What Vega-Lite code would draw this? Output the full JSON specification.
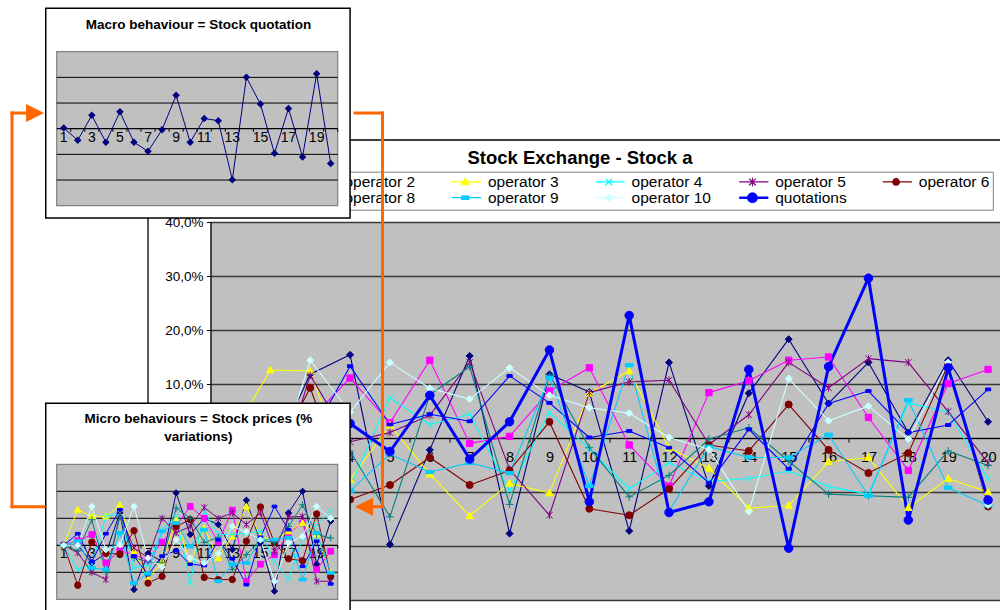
{
  "$schema": "https://vega.github.io/schema/vega-lite/v6.json",
  "autosize": "none",
  "padding": {"left": 210.5, "top": 221, "right": 789.5, "bottom": 389},
  "background": "white",
  "bounds": "flush",
  "spacing": 0,
  "config": {
    "font": "Liberation Sans",
    "view": {"stroke": null},
    "locale": {"number": {"decimal": ",", "thousands": ".", "grouping": [3], "currency": ["", " €"], "minus": "-", "percent": "%"}}
  },
  "resolve": {"scale": {"color": "independent", "stroke": "independent", "shape": "independent", "size": "independent", "strokeWidth": "independent"}},
  "datasets": {
    "main": [
      {"series":"operator 1","period":1,"change":0},{"series":"operator 1","period":2,"change":-0.04},{"series":"operator 1","period":3,"change":0.118},{"series":"operator 1","period":4,"change":0.154},{"series":"operator 1","period":5,"change":-0.197},{"series":"operator 1","period":6,"change":-0.022},{"series":"operator 1","period":7,"change":0.152},{"series":"operator 1","period":8,"change":-0.177},{"series":"operator 1","period":9,"change":0.118},{"series":"operator 1","period":10,"change":0.085},{"series":"operator 1","period":11,"change":-0.172},{"series":"operator 1","period":12,"change":0.14},{"series":"operator 1","period":13,"change":-0.089},{"series":"operator 1","period":14,"change":0.083},{"series":"operator 1","period":15,"change":0.183},{"series":"operator 1","period":16,"change":0.064},{"series":"operator 1","period":17,"change":0.14},{"series":"operator 1","period":18,"change":0.01},{"series":"operator 1","period":19,"change":0.144},{"series":"operator 1","period":20,"change":0.03},
      {"series":"operator 2","period":1,"change":0},{"series":"operator 2","period":2,"change":0.02},{"series":"operator 2","period":3,"change":0.034},{"series":"operator 2","period":4,"change":0.111},{"series":"operator 2","period":5,"change":0.028},{"series":"operator 2","period":6,"change":0.144},{"series":"operator 2","period":7,"change":-0.01},{"series":"operator 2","period":8,"change":0.003},{"series":"operator 2","period":9,"change":0.087},{"series":"operator 2","period":10,"change":0.13},{"series":"operator 2","period":11,"change":-0.013},{"series":"operator 2","period":12,"change":-0.089},{"series":"operator 2","period":13,"change":0.084},{"series":"operator 2","period":14,"change":0.106},{"series":"operator 2","period":15,"change":0.144},{"series":"operator 2","period":16,"change":0.15},{"series":"operator 2","period":17,"change":0.038},{"series":"operator 2","period":18,"change":-0.06},{"series":"operator 2","period":19,"change":0.101},{"series":"operator 2","period":20,"change":0.127},
      {"series":"operator 3","period":1,"change":0},{"series":"operator 3","period":2,"change":0.126},{"series":"operator 3","period":3,"change":0.124},{"series":"operator 3","period":4,"change":-0.078},{"series":"operator 3","period":5,"change":0.024},{"series":"operator 3","period":6,"change":-0.067},{"series":"operator 3","period":7,"change":-0.144},{"series":"operator 3","period":8,"change":-0.084},{"series":"operator 3","period":9,"change":-0.102},{"series":"operator 3","period":10,"change":0.083},{"series":"operator 3","period":11,"change":0.124},{"series":"operator 3","period":12,"change":-0.018},{"series":"operator 3","period":13,"change":-0.056},{"series":"operator 3","period":14,"change":-0.13},{"series":"operator 3","period":15,"change":-0.125},{"series":"operator 3","period":16,"change":-0.044},{"series":"operator 3","period":17,"change":-0.036},{"series":"operator 3","period":18,"change":-0.129},{"series":"operator 3","period":19,"change":-0.075},{"series":"operator 3","period":20,"change":-0.1},
      {"series":"operator 4","period":1,"change":0},{"series":"operator 4","period":2,"change":-0.06},{"series":"operator 4","period":3,"change":-0.03},{"series":"operator 4","period":4,"change":-0.09},{"series":"operator 4","period":5,"change":0.075},{"series":"operator 4","period":6,"change":0.025},{"series":"operator 4","period":7,"change":0.044},{"series":"operator 4","period":8,"change":-0.098},{"series":"operator 4","period":9,"change":0.047},{"series":"operator 4","period":10,"change":-0.02},{"series":"operator 4","period":11,"change":-0.094},{"series":"operator 4","period":12,"change":-0.046},{"series":"operator 4","period":13,"change":-0.08},{"series":"operator 4","period":14,"change":-0.075},{"series":"operator 4","period":15,"change":-0.061},{"series":"operator 4","period":16,"change":-0.09},{"series":"operator 4","period":17,"change":-0.104},{"series":"operator 4","period":18,"change":0.065},{"series":"operator 4","period":19,"change":0.048},{"series":"operator 4","period":20,"change":-0.075},
      {"series":"operator 5","period":1,"change":0},{"series":"operator 5","period":2,"change":-0.12},{"series":"operator 5","period":3,"change":0.116},{"series":"operator 5","period":4,"change":-0.007},{"series":"operator 5","period":5,"change":0.01},{"series":"operator 5","period":6,"change":0.042},{"series":"operator 5","period":7,"change":0.14},{"series":"operator 5","period":8,"change":-0.058},{"series":"operator 5","period":9,"change":-0.143},{"series":"operator 5","period":10,"change":0.084},{"series":"operator 5","period":11,"change":0.104},{"series":"operator 5","period":12,"change":0.107},{"series":"operator 5","period":13,"change":-0.012},{"series":"operator 5","period":14,"change":0.043},{"series":"operator 5","period":15,"change":0.14},{"series":"operator 5","period":16,"change":0.093},{"series":"operator 5","period":17,"change":0.147},{"series":"operator 5","period":18,"change":0.14},{"series":"operator 5","period":19,"change":0.049},{"series":"operator 5","period":20,"change":-0.046},
      {"series":"operator 6","period":1,"change":0},{"series":"operator 6","period":2,"change":-0.05},{"series":"operator 6","period":3,"change":0.093},{"series":"operator 6","period":4,"change":-0.114},{"series":"operator 6","period":5,"change":-0.087},{"series":"operator 6","period":6,"change":-0.036},{"series":"operator 6","period":7,"change":-0.087},{"series":"operator 6","period":8,"change":-0.06},{"series":"operator 6","period":9,"change":0.03},{"series":"operator 6","period":10,"change":-0.131},{"series":"operator 6","period":11,"change":-0.143},{"series":"operator 6","period":12,"change":-0.094},{"series":"operator 6","period":13,"change":-0.013},{"series":"operator 6","period":14,"change":-0.024},{"series":"operator 6","period":15,"change":0.062},{"series":"operator 6","period":16,"change":-0.022},{"series":"operator 6","period":17,"change":-0.065},{"series":"operator 6","period":18,"change":-0.028},{"series":"operator 6","period":19,"change":0.136},{"series":"operator 6","period":20,"change":-0.127},
      {"series":"operator 7","period":1,"change":0},{"series":"operator 7","period":2,"change":-0.03},{"series":"operator 7","period":3,"change":-0.06},{"series":"operator 7","period":4,"change":-0.024},{"series":"operator 7","period":5,"change":-0.146},{"series":"operator 7","period":6,"change":0.08},{"series":"operator 7","period":7,"change":0.132},{"series":"operator 7","period":8,"change":-0.123},{"series":"operator 7","period":9,"change":0.118},{"series":"operator 7","period":10,"change":-0.018},{"series":"operator 7","period":11,"change":-0.109},{"series":"operator 7","period":12,"change":-0.069},{"series":"operator 7","period":13,"change":-0.002},{"series":"operator 7","period":14,"change":0.019},{"series":"operator 7","period":15,"change":-0.043},{"series":"operator 7","period":16,"change":-0.104},{"series":"operator 7","period":17,"change":-0.107},{"series":"operator 7","period":18,"change":-0.11},{"series":"operator 7","period":19,"change":-0.024},{"series":"operator 7","period":20,"change":-0.051},
      {"series":"operator 8","period":1,"change":0},{"series":"operator 8","period":2,"change":0.04},{"series":"operator 8","period":3,"change":0},{"series":"operator 8","period":4,"change":0.133},{"series":"operator 8","period":5,"change":0.025},{"series":"operator 8","period":6,"change":0.044},{"series":"operator 8","period":7,"change":0.031},{"series":"operator 8","period":8,"change":0.115},{"series":"operator 8","period":9,"change":0.065},{"series":"operator 8","period":10,"change":0.001},{"series":"operator 8","period":11,"change":0.013},{"series":"operator 8","period":12,"change":-0.018},{"series":"operator 8","period":13,"change":-0.083},{"series":"operator 8","period":14,"change":0.016},{"series":"operator 8","period":15,"change":-0.057},{"series":"operator 8","period":16,"change":0.064},{"series":"operator 8","period":17,"change":0.087},{"series":"operator 8","period":18,"change":0.01},{"series":"operator 8","period":19,"change":0.024},{"series":"operator 8","period":20,"change":0.09},
      {"series":"operator 9","period":1,"change":0},{"series":"operator 9","period":2,"change":-0.05},{"series":"operator 9","period":3,"change":-0.05},{"series":"operator 9","period":4,"change":-0.098},{"series":"operator 9","period":5,"change":-0.03},{"series":"operator 9","period":6,"change":-0.063},{"series":"operator 9","period":7,"change":-0.046},{"series":"operator 9","period":8,"change":-0.065},{"series":"operator 9","period":9,"change":0.112},{"series":"operator 9","period":10,"change":-0.089},{"series":"operator 9","period":11,"change":0.135},{"series":"operator 9","period":12,"change":-0.135},{"series":"operator 9","period":13,"change":-0.016},{"series":"operator 9","period":14,"change":-0.036},{"series":"operator 9","period":15,"change":-0.036},{"series":"operator 9","period":16,"change":0.006},{"series":"operator 9","period":17,"change":-0.107},{"series":"operator 9","period":18,"change":0.07},{"series":"operator 9","period":19,"change":-0.092},{"series":"operator 9","period":20,"change":-0.125},
      {"series":"operator 10","period":1,"change":0},{"series":"operator 10","period":2,"change":-0.09},{"series":"operator 10","period":3,"change":0.144},{"series":"operator 10","period":4,"change":0.048},{"series":"operator 10","period":5,"change":0.14},{"series":"operator 10","period":6,"change":0.092},{"series":"operator 10","period":7,"change":0.072},{"series":"operator 10","period":8,"change":0.13},{"series":"operator 10","period":9,"change":0.079},{"series":"operator 10","period":10,"change":0.056},{"series":"operator 10","period":11,"change":0.046},{"series":"operator 10","period":12,"change":0.001},{"series":"operator 10","period":13,"change":-0.021},{"series":"operator 10","period":14,"change":-0.136},{"series":"operator 10","period":15,"change":0.11},{"series":"operator 10","period":16,"change":0.032},{"series":"operator 10","period":17,"change":0.059},{"series":"operator 10","period":18,"change":-0.002},{"series":"operator 10","period":19,"change":0.14},{"series":"operator 10","period":20,"change":-0.124},
      {"series":"quotations","period":1,"change":0},{"series":"quotations","period":2,"change":-0.02},{"series":"quotations","period":3,"change":0.05},{"series":"quotations","period":4,"change":0.027},{"series":"quotations","period":5,"change":-0.025},{"series":"quotations","period":6,"change":0.079},{"series":"quotations","period":7,"change":-0.039},{"series":"quotations","period":8,"change":0.03},{"series":"quotations","period":9,"change":0.163},{"series":"quotations","period":10,"change":-0.118},{"series":"quotations","period":11,"change":0.227},{"series":"quotations","period":12,"change":-0.138},{"series":"quotations","period":13,"change":-0.118},{"series":"quotations","period":14,"change":0.127},{"series":"quotations","period":15,"change":-0.204},{"series":"quotations","period":16,"change":0.132},{"series":"quotations","period":17,"change":0.296},{"series":"quotations","period":18,"change":-0.152},{"series":"quotations","period":19,"change":0.13},{"series":"quotations","period":20,"change":-0.115}
    ],
    "macro": [
      {"period":1,"level":0.03},{"period":2,"level":-0.45},{"period":3,"level":0.52},{"period":4,"level":-0.53},{"period":5,"level":0.66},{"period":6,"level":-0.53},{"period":7,"level":-0.88},{"period":8,"level":-0.04},{"period":9,"level":1.3},{"period":10,"level":-0.53},{"period":11,"level":0.4},{"period":12,"level":0.31},{"period":13,"level":-1.99},{"period":14,"level":2.0},{"period":15,"level":0.96},{"period":16,"level":-0.96},{"period":17,"level":0.79},{"period":18,"level":-1.1},{"period":19,"level":2.14},{"period":20,"level":-1.36}
    ],
    "micro": [
      {"series":"operator 1","period":1,"change":0},{"series":"operator 1","period":2,"change":0},{"series":"operator 1","period":3,"change":-0.065},{"series":"operator 1","period":4,"change":-0.03},{"series":"operator 1","period":5,"change":0.12},{"series":"operator 1","period":6,"change":-0.164},{"series":"operator 1","period":7,"change":-0.03},{"series":"operator 1","period":8,"change":-0.06},{"series":"operator 1","period":9,"change":0.194},{"series":"operator 1","period":10,"change":0.04},{"series":"operator 1","period":11,"change":0.1},{"series":"operator 1","period":12,"change":0.077},{"series":"operator 1","period":13,"change":-0.016},{"series":"operator 1","period":14,"change":0.167},{"series":"operator 1","period":15,"change":0.01},{"series":"operator 1","period":16,"change":-0.17},{"series":"operator 1","period":17,"change":0.12},{"series":"operator 1","period":18,"change":0.2},{"series":"operator 1","period":19,"change":-0.07},{"series":"operator 1","period":20,"change":0.09},
      {"series":"operator 2","period":1,"change":0},{"series":"operator 2","period":2,"change":0.017},{"series":"operator 2","period":3,"change":0.04},{"series":"operator 2","period":4,"change":-0.065},{"series":"operator 2","period":5,"change":-0.02},{"series":"operator 2","period":6,"change":-0.035},{"series":"operator 2","period":7,"change":-0.055},{"series":"operator 2","period":8,"change":0.012},{"series":"operator 2","period":9,"change":0.07},{"series":"operator 2","period":10,"change":0.144},{"series":"operator 2","period":11,"change":0.1},{"series":"operator 2","period":12,"change":0.012},{"series":"operator 2","period":13,"change":0.13},{"series":"operator 2","period":14,"change":-0.133},{"series":"operator 2","period":15,"change":-0.07},{"series":"operator 2","period":16,"change":-0.035},{"series":"operator 2","period":17,"change":0.046},{"series":"operator 2","period":18,"change":0.083},{"series":"operator 2","period":19,"change":-0.09},{"series":"operator 2","period":20,"change":-0.022},
      {"series":"operator 3","period":1,"change":0},{"series":"operator 3","period":2,"change":0.132},{"series":"operator 3","period":3,"change":0.107},{"series":"operator 3","period":4,"change":0.107},{"series":"operator 3","period":5,"change":0.15},{"series":"operator 3","period":6,"change":-0.022},{"series":"operator 3","period":7,"change":-0.127},{"series":"operator 3","period":8,"change":-0.06},{"series":"operator 3","period":9,"change":0.095},{"series":"operator 3","period":10,"change":-0.065},{"series":"operator 3","period":11,"change":0.064},{"series":"operator 3","period":12,"change":-0.047},{"series":"operator 3","period":13,"change":0.033},{"series":"operator 3","period":14,"change":0.144},{"series":"operator 3","period":15,"change":0.033},{"series":"operator 3","period":16,"change":0.015},{"series":"operator 3","period":17,"change":0.052},{"series":"operator 3","period":18,"change":0.083},{"series":"operator 3","period":19,"change":0.04},{"series":"operator 3","period":20,"change":-0.102},
      {"series":"operator 4","period":1,"change":0},{"series":"operator 4","period":2,"change":-0.09},{"series":"operator 4","period":3,"change":-0.07},{"series":"operator 4","period":4,"change":0.107},{"series":"operator 4","period":5,"change":0.12},{"series":"operator 4","period":6,"change":-0.084},{"series":"operator 4","period":7,"change":-0.072},{"series":"operator 4","period":8,"change":0.058},{"series":"operator 4","period":9,"change":0.107},{"series":"operator 4","period":10,"change":-0.14},{"series":"operator 4","period":11,"change":0.126},{"series":"operator 4","period":12,"change":0.04},{"series":"operator 4","period":13,"change":0.04},{"series":"operator 4","period":14,"change":0.045},{"series":"operator 4","period":15,"change":0.052},{"series":"operator 4","period":16,"change":-0.06},{"series":"operator 4","period":17,"change":-0.127},{"series":"operator 4","period":18,"change":0.027},{"series":"operator 4","period":19,"change":0.077},{"series":"operator 4","period":20,"change":0.126},
      {"series":"operator 5","period":1,"change":0},{"series":"operator 5","period":2,"change":-0.028},{"series":"operator 5","period":3,"change":-0.1},{"series":"operator 5","period":4,"change":-0.127},{"series":"operator 5","period":5,"change":0.114},{"series":"operator 5","period":6,"change":-0.01},{"series":"operator 5","period":7,"change":-0.047},{"series":"operator 5","period":8,"change":0.1},{"series":"operator 5","period":9,"change":0.046},{"series":"operator 5","period":10,"change":0.07},{"series":"operator 5","period":11,"change":0.14},{"series":"operator 5","period":12,"change":0.1},{"series":"operator 5","period":13,"change":0.12},{"series":"operator 5","period":14,"change":0.077},{"series":"operator 5","period":15,"change":0.12},{"series":"operator 5","period":16,"change":-0.022},{"series":"operator 5","period":17,"change":0.105},{"series":"operator 5","period":18,"change":0.107},{"series":"operator 5","period":19,"change":-0.133},{"series":"operator 5","period":20,"change":-0.133},
      {"series":"operator 6","period":1,"change":0},{"series":"operator 6","period":2,"change":-0.148},{"series":"operator 6","period":3,"change":0.012},{"series":"operator 6","period":4,"change":-0.03},{"series":"operator 6","period":5,"change":-0.032},{"series":"operator 6","period":6,"change":0.054},{"series":"operator 6","period":7,"change":-0.14},{"series":"operator 6","period":8,"change":-0.115},{"series":"operator 6","period":9,"change":0.07},{"series":"operator 6","period":10,"change":0.095},{"series":"operator 6","period":11,"change":-0.119},{"series":"operator 6","period":12,"change":-0.127},{"series":"operator 6","period":13,"change":-0.127},{"series":"operator 6","period":14,"change":0.015},{"series":"operator 6","period":15,"change":0.142},{"series":"operator 6","period":16,"change":0.009},{"series":"operator 6","period":17,"change":-0.05},{"series":"operator 6","period":18,"change":-0.057},{"series":"operator 6","period":19,"change":0.116},{"series":"operator 6","period":20,"change":-0.115},
      {"series":"operator 7","period":1,"change":0},{"series":"operator 7","period":2,"change":-0.02},{"series":"operator 7","period":3,"change":0.095},{"series":"operator 7","period":4,"change":-0.1},{"series":"operator 7","period":5,"change":0.107},{"series":"operator 7","period":6,"change":-0.047},{"series":"operator 7","period":7,"change":-0.06},{"series":"operator 7","period":8,"change":-0.065},{"series":"operator 7","period":9,"change":0.138},{"series":"operator 7","period":10,"change":0.1},{"series":"operator 7","period":11,"change":0.01},{"series":"operator 7","period":12,"change":0.03},{"series":"operator 7","period":13,"change":-0.09},{"series":"operator 7","period":14,"change":-0.035},{"series":"operator 7","period":15,"change":0.02},{"series":"operator 7","period":16,"change":0.01},{"series":"operator 7","period":17,"change":0.07},{"series":"operator 7","period":18,"change":0.15},{"series":"operator 7","period":19,"change":0.04},{"series":"operator 7","period":20,"change":0.027},
      {"series":"operator 8","period":1,"change":0},{"series":"operator 8","period":2,"change":0.043},{"series":"operator 8","period":3,"change":-0.06},{"series":"operator 8","period":4,"change":0.043},{"series":"operator 8","period":5,"change":0.132},{"series":"operator 8","period":6,"change":-0.04},{"series":"operator 8","period":7,"change":-0.109},{"series":"operator 8","period":8,"change":-0.04},{"series":"operator 8","period":9,"change":-0.02},{"series":"operator 8","period":10,"change":-0.07},{"series":"operator 8","period":11,"change":-0.075},{"series":"operator 8","period":12,"change":0.02},{"series":"operator 8","period":13,"change":-0.05},{"series":"operator 8","period":14,"change":-0.146},{"series":"operator 8","period":15,"change":0.03},{"series":"operator 8","period":16,"change":0.144},{"series":"operator 8","period":17,"change":0.058},{"series":"operator 8","period":18,"change":-0.078},{"series":"operator 8","period":19,"change":0.015},{"series":"operator 8","period":20,"change":-0.143},
      {"series":"operator 9","period":1,"change":0},{"series":"operator 9","period":2,"change":0.015},{"series":"operator 9","period":3,"change":-0.084},{"series":"operator 9","period":4,"change":-0.09},{"series":"operator 9","period":5,"change":0.046},{"series":"operator 9","period":6,"change":-0.14},{"series":"operator 9","period":7,"change":-0.105},{"series":"operator 9","period":8,"change":0.052},{"series":"operator 9","period":9,"change":0.083},{"series":"operator 9","period":10,"change":-0.004},{"series":"operator 9","period":11,"change":0.058},{"series":"operator 9","period":12,"change":-0.133},{"series":"operator 9","period":13,"change":-0.07},{"series":"operator 9","period":14,"change":-0.065},{"series":"operator 9","period":15,"change":0.021},{"series":"operator 9","period":16,"change":0.021},{"series":"operator 9","period":17,"change":0.028},{"series":"operator 9","period":18,"change":-0.127},{"series":"operator 9","period":19,"change":0.046},{"series":"operator 9","period":20,"change":-0.102},
      {"series":"operator 10","period":1,"change":0},{"series":"operator 10","period":2,"change":0},{"series":"operator 10","period":3,"change":0.144},{"series":"operator 10","period":4,"change":-0.016},{"series":"operator 10","period":5,"change":0.002},{"series":"operator 10","period":6,"change":0.144},{"series":"operator 10","period":7,"change":-0.047},{"series":"operator 10","period":8,"change":-0.08},{"series":"operator 10","period":9,"change":0.021},{"series":"operator 10","period":10,"change":-0.047},{"series":"operator 10","period":11,"change":-0.065},{"series":"operator 10","period":12,"change":-0.03},{"series":"operator 10","period":13,"change":0.07},{"series":"operator 10","period":14,"change":0.05},{"series":"operator 10","period":15,"change":0.02},{"series":"operator 10","period":16,"change":-0.133},{"series":"operator 10","period":17,"change":0.009},{"series":"operator 10","period":18,"change":0.033},{"series":"operator 10","period":19,"change":0.144},{"series":"operator 10","period":20,"change":0.1}
    ]
  },
  "vconcat": [
    {
      "width": 1,
      "height": 1,
      "view": {"stroke": null},
      "title": {"text": "Stock Exchange - Stock a", "fontSize": 18.5, "fontWeight": "bold", "color": "black", "frame": "group", "anchor": "middle", "dx": 369, "offset": 4},
      "data": {"name": "main"},
      "mark": {"type": "point", "opacity": 0},
      "encoding": {
        "color": {"field": "series", "type": "nominal",
          "scale": {"domain": ["operator 1","operator 2","operator 3","operator 4","operator 5","operator 6","operator 7","operator 8","operator 9","operator 10","quotations"], "range": ["#000080","#FF00FF","#FFFF00","#00FFFF","#800080","#800000","#008080","#0000FF","#00CCFF","#CCFFFF","#0000FF"]},
          "legend": {"title": null, "orient": "none", "legendX": -48.7, "legendY": -49.3, "direction": "horizontal", "columns": 6, "gridAlign": "all", "columnPadding": 27.6, "rowPadding": -1.2, "padding": 3, "strokeColor": "#808080", "fillColor": "white", "labelFontSize": 15.5, "labelColor": "black", "symbolOffset": 5.5, "labelOffset": 15, "clipHeight": 14, "symbolSize": 44, "symbolStrokeWidth": 1.2, "symbolOpacity": 1,
            "encoding": {"symbols": {
              "shape": {"value": {"expr": "['M-4.8,0H4.8M0,-1.1L1.1,0L0,1.1L-1.1,0Z','M-4.8,0H4.8M-1,-1H1V1H-1Z','M-4.8,0H4.8M0,-1.15L1.15,0.85H-1.15Z','M-4.8,0H4.8M-1,-1L1,1M1,-1L-1,1','M-4.8,0H4.8M-1,-1L1,1M1,-1L-1,1M0,-1.3V1.3','M-4.8,0H4.8M1,0A1,1,0,1,1,-1,0A1,1,0,1,1,1,0Z','M-4.8,0H4.8M0,-1.2V1.2','M-4.8,0H4.8M-0.8,-0.45H0.8V0.45H-0.8Z','M-4.8,0H4.8M-1.1,-0.5H1.1V0.5H-1.1Z','M-4.8,0H4.8M0,-1.1L1.1,0L0,1.1L-1.1,0Z','M-4.8,0H4.8M1.25,0A1.25,1.25,0,1,1,-1.25,0A1.25,1.25,0,1,1,1.25,0Z'][indexof(['operator 1','operator 2','operator 3','operator 4','operator 5','operator 6','operator 7','operator 8','operator 9','operator 10','quotations'], datum.value)]"}},
              "stroke": {"value": {"expr": "['#000080','#FF00FF','#FFFF00','#00FFFF','#800080','#800000','#008080','#0000FF','#00CCFF','#CCFFFF','#0000FF'][indexof(['operator 1','operator 2','operator 3','operator 4','operator 5','operator 6','operator 7','operator 8','operator 9','operator 10','quotations'], datum.value)]"}},
              "fill": {"value": {"expr": "['#000080','#FF00FF','#FFFF00','#00FFFF','#800080','#800000','#008080','#0000FF','#00CCFF','#CCFFFF','#0000FF'][indexof(['operator 1','operator 2','operator 3','operator 4','operator 5','operator 6','operator 7','operator 8','operator 9','operator 10','quotations'], datum.value)]"}},
              "strokeWidth": {"value": {"expr": "datum.value === 'quotations' ? 2.5 : 1.2"}},
              "size": {"value": 44},
              "opacity": {"value": 1},
              "fillOpacity": {"value": 1},
              "strokeOpacity": {"value": 1}
            }}
          }}
      }
    },
    {
      "width": 797.5,
      "height": 378,
      "view": {"fill": "#C0C0C0", "stroke": "#808080"},
      "resolve": {"scale": {"x": "independent", "y": "independent", "color": "independent", "stroke": "independent", "shape": "independent", "size": "independent", "strokeWidth": "independent"}},
      "layer": [
        {
          "data": {"name": "main"},
          "encoding": {
            "x": {"field": "period", "type": "quantitative", "scale": {"domain": [0.5, 20.5], "nice": false, "zero": false},
              "axis": {"values": [1,2,3,4,5,6,7,8,9,10,11,12,13,14,15,16,17,18,19,20], "format": "d", "title": null, "grid": false, "offset": -162, "tickOffset": 19.94, "labelOffset": -19.94, "tickSize": 4, "tickColor": "black", "domainColor": "black", "domainWidth": 1.2, "labelFontSize": 14.5, "labelColor": "black", "labelPadding": 8.5, "labelFlush": false, "labelOverlap": false, "labelBound": false, "zindex": 0}},
            "y": {"field": "change", "type": "quantitative", "scale": {"domain": [-0.3, 0.4], "nice": false, "zero": false},
              "axis": {"values": [-0.3,-0.2,-0.1,0,0.1,0.2,0.3,0.4], "format": ".1%", "title": null, "grid": true, "gridColor": "#383838", "gridWidth": 1.4, "tickSize": 4, "tickColor": "black", "domainColor": "black", "domainWidth": 1.2, "labelFontSize": 13.5, "labelColor": "black", "labelPadding": 3.5, "labelFlush": false, "labelOverlap": false, "zindex": 0}}
          },
          "layer": [
            {
              "mark": {"type": "line", "strokeJoin": "round"},
              "encoding": {
                "color": {"field": "series", "type": "nominal",
                  "scale": {"domain": ["operator 1","operator 2","operator 3","operator 4","operator 5","operator 6","operator 7","operator 8","operator 9","operator 10","quotations"], "range": ["#000080","#FF00FF","#FFFF00","#00FFFF","#800080","#800000","#008080","#0000FF","#00CCFF","#CCFFFF","#0000FF"]},
                  "legend": null},
                "strokeWidth": {"field": "series", "type": "nominal",
                  "scale": {"type": "ordinal", "domain": ["operator 1","operator 2","operator 3","operator 4","operator 5","operator 6","operator 7","operator 8","operator 9","operator 10","quotations"], "range": [1.1,1.1,1.1,1.1,1.1,1.1,1.1,1.1,1.1,1.1,3]},
                  "legend": null}
              }
            },
            {
              "mark": {"type": "point", "filled": true, "opacity": 1, "strokeWidth": 1},
              "encoding": {
                "color": {"field": "series", "type": "nominal",
                  "scale": {"domain": ["operator 1","operator 2","operator 3","operator 4","operator 5","operator 6","operator 7","operator 8","operator 9","operator 10","quotations"], "range": ["#000080","#FF00FF","#FFFF00","#00FFFF","#800080","#800000","#008080","#0000FF","#00CCFF","#CCFFFF","#0000FF"]},
                  "legend": null},
                "stroke": {"field": "series", "type": "nominal",
                  "scale": {"domain": ["operator 1","operator 2","operator 3","operator 4","operator 5","operator 6","operator 7","operator 8","operator 9","operator 10","quotations"], "range": ["#000080","#FF00FF","#FFFF00","#00FFFF","#800080","#800000","#008080","#0000FF","#00CCFF","#CCFFFF","#0000FF"]},
                  "legend": null},
                "shape": {"field": "series", "type": "nominal",
                  "scale": {"domain": ["operator 1","operator 2","operator 3","operator 4","operator 5","operator 6","operator 7","operator 8","operator 9","operator 10","quotations"], "range": ["M0,-1L1,0L0,1L-1,0Z","M-0.9,-0.9H0.9V0.9H-0.9Z","M0,-1.05L1.05,0.8H-1.05Z","M-0.9,-0.9L0.9,0.9M0.9,-0.9L-0.9,0.9","M-0.9,-0.9L0.9,0.9M0.9,-0.9L-0.9,0.9M0,-1.1V1.1","circle","M-1.1,0H1.1M0,-1.1V1.1","M-0.75,-0.4H0.75V0.4H-0.75Z","M-1.1,-0.45H1.1V0.45H-1.1Z","M0,-1L1,0L0,1L-1,0Z","circle"]},
                  "legend": null},
                "size": {"field": "series", "type": "nominal",
                  "scale": {"type": "ordinal", "domain": ["operator 1","operator 2","operator 3","operator 4","operator 5","operator 6","operator 7","operator 8","operator 9","operator 10","quotations"], "range": [49,49,49,49,49,49,49,49,49,49,72]},
                  "legend": null}
              }
            }
          ]
        },
        {
          "resolve": {"scale": {"y": "independent"}},
          "layer": [
            {
              "layer": [
                {
                  "data": {"values": [{}]},
                  "mark": {"type": "rect", "fillOpacity": 0, "stroke": "black", "strokeWidth": 1.3},
                  "encoding": {
                    "x": {"datum": 7.0, "type": "quantitative", "scale": {"domain": [0.5, 20.5], "range": [-153.8, 127.2], "nice": false, "zero": false}, "axis": null},
                    "x2": {"datum": 70},
                    "y": {"datum": -0.44, "type": "quantitative", "scale": {"domain": [-3, 3], "range": [-16.3, -170.3], "nice": false, "zero": false}, "axis": null},
                    "y2": {"datum": -19.5}
                  }
                },
                {
                  "data": {"values": [{}]},
                  "mark": {"type": "rect", "fill": "white", "stroke": "black", "strokeWidth": 1.5},
                  "encoding": {
                    "x": {"datum": -0.28, "type": "quantitative", "scale": {"domain": [0.5, 20.5], "range": [-153.8, 127.2], "nice": false, "zero": false}, "axis": null},
                    "x2": {"datum": 21.38},
                    "y": {"datum": 4.69, "type": "quantitative", "scale": {"domain": [-3, 3], "range": [-16.3, -170.3], "nice": false, "zero": false}, "axis": null},
                    "y2": {"datum": -3.48}
                  }
                },
                {
                  "data": {"values": [{}]},
                  "mark": {"type": "rect", "fill": "#C0C0C0", "stroke": "#808080", "strokeWidth": 1.2},
                  "encoding": {
                    "x": {"datum": 0.5, "type": "quantitative", "scale": {"domain": [0.5, 20.5], "range": [-153.8, 127.2], "nice": false, "zero": false}, "axis": null},
                    "x2": {"datum": 20.5},
                    "y": {"datum": -3, "type": "quantitative", "scale": {"domain": [-3, 3], "range": [-16.3, -170.3], "nice": false, "zero": false}, "axis": null},
                    "y2": {"datum": 3}
                  }
                },
                {
                  "data": {"values": [{}]},
                  "mark": {"type": "rule", "color": "black", "strokeWidth": 1},
                  "encoding": {
                    "x": {"datum": 0.5, "type": "quantitative", "scale": {"domain": [0.5, 20.5], "range": [-153.8, 127.2], "nice": false, "zero": false}, "axis": null},
                    "x2": {"datum": 20.5},
                    "y": {"datum": 2, "type": "quantitative", "scale": {"domain": [-3, 3], "range": [-16.3, -170.3], "nice": false, "zero": false}, "axis": null}
                  }
                },
                {
                  "data": {"values": [{}]},
                  "mark": {"type": "rule", "color": "black", "strokeWidth": 1},
                  "encoding": {
                    "x": {"datum": 0.5, "type": "quantitative", "scale": {"domain": [0.5, 20.5], "range": [-153.8, 127.2], "nice": false, "zero": false}, "axis": null},
                    "x2": {"datum": 20.5},
                    "y": {"datum": 1, "type": "quantitative", "scale": {"domain": [-3, 3], "range": [-16.3, -170.3], "nice": false, "zero": false}, "axis": null}
                  }
                },
                {
                  "data": {"values": [{}]},
                  "mark": {"type": "rule", "color": "black", "strokeWidth": 1},
                  "encoding": {
                    "x": {"datum": 0.5, "type": "quantitative", "scale": {"domain": [0.5, 20.5], "range": [-153.8, 127.2], "nice": false, "zero": false}, "axis": null},
                    "x2": {"datum": 20.5},
                    "y": {"datum": -1, "type": "quantitative", "scale": {"domain": [-3, 3], "range": [-16.3, -170.3], "nice": false, "zero": false}, "axis": null}
                  }
                },
                {
                  "data": {"values": [{}]},
                  "mark": {"type": "rule", "color": "black", "strokeWidth": 1},
                  "encoding": {
                    "x": {"datum": 0.5, "type": "quantitative", "scale": {"domain": [0.5, 20.5], "range": [-153.8, 127.2], "nice": false, "zero": false}, "axis": null},
                    "x2": {"datum": 20.5},
                    "y": {"datum": -2, "type": "quantitative", "scale": {"domain": [-3, 3], "range": [-16.3, -170.3], "nice": false, "zero": false}, "axis": null}
                  }
                },
                {
                  "data": {"values": [{}]},
                  "mark": {"type": "rule", "color": "black", "strokeWidth": 1.2},
                  "encoding": {
                    "x": {"datum": 0.5, "type": "quantitative", "scale": {"domain": [0.5, 20.5], "range": [-153.8, 127.2], "nice": false, "zero": false}, "axis": null},
                    "x2": {"datum": 20.5},
                    "y": {"datum": 0, "type": "quantitative", "scale": {"domain": [-3, 3], "range": [-16.3, -170.3], "nice": false, "zero": false}, "axis": null}
                  }
                },
                {
                  "data": {"name": "macro"},
                  "mark": {"type": "rule", "color": "black", "strokeWidth": 1, "xOffset": 7.03},
                  "encoding": {
                    "x": {"field": "period", "type": "quantitative", "scale": {"domain": [0.5, 20.5], "range": [-153.8, 127.2], "nice": false, "zero": false}, "axis": null},
                    "y": {"datum": 0, "type": "quantitative", "scale": {"domain": [-3, 3], "range": [-16.3, -170.3], "nice": false, "zero": false}, "axis": null},
                    "y2": {"datum": -0.12}
                  }
                },
                {
                  "data": {"name": "macro"},
                  "transform": [{"filter": "datum.period % 2 == 1"}],
                  "mark": {"type": "text", "fontSize": 14, "baseline": "top", "dy": 2, "color": "black"},
                  "encoding": {
                    "x": {"field": "period", "type": "quantitative", "scale": {"domain": [0.5, 20.5], "range": [-153.8, 127.2], "nice": false, "zero": false}, "axis": null},
                    "y": {"datum": 0, "type": "quantitative", "scale": {"domain": [-3, 3], "range": [-16.3, -170.3], "nice": false, "zero": false}, "axis": null},
                    "text": {"field": "period", "type": "quantitative", "format": "d"}
                  }
                },
                {
                  "data": {"name": "macro"},
                  "mark": {"type": "line", "color": "#000080", "strokeWidth": 1},
                  "encoding": {
                    "x": {"field": "period", "type": "quantitative", "scale": {"domain": [0.5, 20.5], "range": [-153.8, 127.2], "nice": false, "zero": false}, "axis": null},
                    "y": {"field": "level", "type": "quantitative", "scale": {"domain": [-3, 3], "range": [-16.3, -170.3], "nice": false, "zero": false}, "axis": null}
                  }
                },
                {
                  "data": {"name": "macro"},
                  "mark": {"type": "point", "filled": true, "opacity": 1, "color": "#000080", "shape": "M0,-1L1,0L0,1L-1,0Z", "size": 56},
                  "encoding": {
                    "x": {"field": "period", "type": "quantitative", "scale": {"domain": [0.5, 20.5], "range": [-153.8, 127.2], "nice": false, "zero": false}, "axis": null},
                    "y": {"field": "level", "type": "quantitative", "scale": {"domain": [-3, 3], "range": [-16.3, -170.3], "nice": false, "zero": false}, "axis": null}
                  }
                },
                {
                  "data": {"values": [{}]},
                  "mark": {"type": "text", "text": "Macro behaviour = Stock quotation", "fontSize": 13.5, "fontWeight": "bold", "align": "center", "baseline": "alphabetic", "color": "black"},
                  "encoding": {
                    "x": {"datum": 10.59, "type": "quantitative", "scale": {"domain": [0.5, 20.5], "range": [-153.8, 127.2], "nice": false, "zero": false}, "axis": null},
                    "y": {"datum": 3.873, "type": "quantitative", "scale": {"domain": [-3, 3], "range": [-16.3, -170.3], "nice": false, "zero": false}, "axis": null}
                  }
                }
              ]
            },
            {
              "layer": [
                {
                  "data": {"values": [{}]},
                  "mark": {"type": "rect", "fill": "white", "stroke": "black", "strokeWidth": 1.5},
                  "encoding": {
                    "x": {"datum": -0.28, "type": "quantitative", "scale": {"domain": [0.5, 20.5], "range": [-153.8, 127.2], "nice": false, "zero": false}, "axis": null},
                    "x2": {"datum": 21.38},
                    "y": {"datum": 0.526, "type": "quantitative", "scale": {"domain": [-0.2, 0.3], "range": [377.3, 242.3], "nice": false, "zero": false}, "axis": null},
                    "y2": {"datum": -0.27}
                  }
                },
                {
                  "data": {"values": [{}]},
                  "mark": {"type": "rect", "fill": "#C0C0C0", "stroke": "#808080", "strokeWidth": 1.2},
                  "encoding": {
                    "x": {"datum": 0.5, "type": "quantitative", "scale": {"domain": [0.5, 20.5], "range": [-153.8, 127.2], "nice": false, "zero": false}, "axis": null},
                    "x2": {"datum": 20.5},
                    "y": {"datum": -0.2, "type": "quantitative", "scale": {"domain": [-0.2, 0.3], "range": [377.3, 242.3], "nice": false, "zero": false}, "axis": null},
                    "y2": {"datum": 0.3}
                  }
                },
                {
                  "data": {"values": [{}]},
                  "mark": {"type": "rule", "color": "black", "strokeWidth": 1},
                  "encoding": {
                    "x": {"datum": 0.5, "type": "quantitative", "scale": {"domain": [0.5, 20.5], "range": [-153.8, 127.2], "nice": false, "zero": false}, "axis": null},
                    "x2": {"datum": 20.5},
                    "y": {"datum": 0.2, "type": "quantitative", "scale": {"domain": [-0.2, 0.3], "range": [377.3, 242.3], "nice": false, "zero": false}, "axis": null}
                  }
                },
                {
                  "data": {"values": [{}]},
                  "mark": {"type": "rule", "color": "black", "strokeWidth": 1},
                  "encoding": {
                    "x": {"datum": 0.5, "type": "quantitative", "scale": {"domain": [0.5, 20.5], "range": [-153.8, 127.2], "nice": false, "zero": false}, "axis": null},
                    "x2": {"datum": 20.5},
                    "y": {"datum": 0.1, "type": "quantitative", "scale": {"domain": [-0.2, 0.3], "range": [377.3, 242.3], "nice": false, "zero": false}, "axis": null}
                  }
                },
                {
                  "data": {"values": [{}]},
                  "mark": {"type": "rule", "color": "black", "strokeWidth": 1},
                  "encoding": {
                    "x": {"datum": 0.5, "type": "quantitative", "scale": {"domain": [0.5, 20.5], "range": [-153.8, 127.2], "nice": false, "zero": false}, "axis": null},
                    "x2": {"datum": 20.5},
                    "y": {"datum": -0.1, "type": "quantitative", "scale": {"domain": [-0.2, 0.3], "range": [377.3, 242.3], "nice": false, "zero": false}, "axis": null}
                  }
                },
                {
                  "data": {"values": [{}]},
                  "mark": {"type": "rule", "color": "black", "strokeWidth": 1.2},
                  "encoding": {
                    "x": {"datum": 0.5, "type": "quantitative", "scale": {"domain": [0.5, 20.5], "range": [-153.8, 127.2], "nice": false, "zero": false}, "axis": null},
                    "x2": {"datum": 20.5},
                    "y": {"datum": 0, "type": "quantitative", "scale": {"domain": [-0.2, 0.3], "range": [377.3, 242.3], "nice": false, "zero": false}, "axis": null}
                  }
                },
                {
                  "data": {"name": "micro"},
                  "transform": [{"filter": "datum.series == 'operator 1'"}],
                  "mark": {"type": "rule", "color": "black", "strokeWidth": 1, "xOffset": 7.03},
                  "encoding": {
                    "x": {"field": "period", "type": "quantitative", "scale": {"domain": [0.5, 20.5], "range": [-153.8, 127.2], "nice": false, "zero": false}, "axis": null},
                    "y": {"datum": 0, "type": "quantitative", "scale": {"domain": [-0.2, 0.3], "range": [377.3, 242.3], "nice": false, "zero": false}, "axis": null},
                    "y2": {"datum": -0.012}
                  }
                },
                {
                  "data": {"name": "micro"},
                  "transform": [{"filter": "datum.series == 'operator 1' && datum.period % 2 == 1"}],
                  "mark": {"type": "text", "fontSize": 14, "baseline": "top", "dy": 2, "color": "black"},
                  "encoding": {
                    "x": {"field": "period", "type": "quantitative", "scale": {"domain": [0.5, 20.5], "range": [-153.8, 127.2], "nice": false, "zero": false}, "axis": null},
                    "y": {"datum": 0, "type": "quantitative", "scale": {"domain": [-0.2, 0.3], "range": [377.3, 242.3], "nice": false, "zero": false}, "axis": null},
                    "text": {"field": "period", "type": "quantitative", "format": "d"}
                  }
                },
                {
                  "data": {"name": "micro"},
                  "mark": {"type": "line", "strokeWidth": 1},
                  "encoding": {
                    "x": {"field": "period", "type": "quantitative", "scale": {"domain": [0.5, 20.5], "range": [-153.8, 127.2], "nice": false, "zero": false}, "axis": null},
                    "y": {"field": "change", "type": "quantitative", "scale": {"domain": [-0.2, 0.3], "range": [377.3, 242.3], "nice": false, "zero": false}, "axis": null},
                    "color": {"field": "series", "type": "nominal",
                      "scale": {"domain": ["operator 1","operator 2","operator 3","operator 4","operator 5","operator 6","operator 7","operator 8","operator 9","operator 10"], "range": ["#000080","#FF00FF","#FFFF00","#00FFFF","#800080","#800000","#008080","#0000FF","#00CCFF","#CCFFFF"]},
                      "legend": null}
                  }
                },
                {
                  "data": {"name": "micro"},
                  "mark": {"type": "point", "filled": true, "opacity": 1, "strokeWidth": 1},
                  "encoding": {
                    "x": {"field": "period", "type": "quantitative", "scale": {"domain": [0.5, 20.5], "range": [-153.8, 127.2], "nice": false, "zero": false}, "axis": null},
                    "y": {"field": "change", "type": "quantitative", "scale": {"domain": [-0.2, 0.3], "range": [377.3, 242.3], "nice": false, "zero": false}, "axis": null},
                    "color": {"field": "series", "type": "nominal",
                      "scale": {"domain": ["operator 1","operator 2","operator 3","operator 4","operator 5","operator 6","operator 7","operator 8","operator 9","operator 10"], "range": ["#000080","#FF00FF","#FFFF00","#00FFFF","#800080","#800000","#008080","#0000FF","#00CCFF","#CCFFFF"]},
                      "legend": null},
                    "stroke": {"field": "series", "type": "nominal",
                      "scale": {"domain": ["operator 1","operator 2","operator 3","operator 4","operator 5","operator 6","operator 7","operator 8","operator 9","operator 10"], "range": ["#000080","#FF00FF","#FFFF00","#00FFFF","#800080","#800000","#008080","#0000FF","#00CCFF","#CCFFFF"]},
                      "legend": null},
                    "shape": {"field": "series", "type": "nominal",
                      "scale": {"domain": ["operator 1","operator 2","operator 3","operator 4","operator 5","operator 6","operator 7","operator 8","operator 9","operator 10"], "range": ["M0,-1L1,0L0,1L-1,0Z","M-0.9,-0.9H0.9V0.9H-0.9Z","M0,-1.05L1.05,0.8H-1.05Z","M-0.9,-0.9L0.9,0.9M0.9,-0.9L-0.9,0.9","M-0.9,-0.9L0.9,0.9M0.9,-0.9L-0.9,0.9M0,-1.1V1.1","circle","M-1.1,0H1.1M0,-1.1V1.1","M-0.75,-0.4H0.75V0.4H-0.75Z","M-1.1,-0.45H1.1V0.45H-1.1Z","M0,-1L1,0L0,1L-1,0Z"]},
                      "legend": null},
                    "size": {"value": 40}
                  }
                },
                {
                  "data": {"values": [{}]},
                  "mark": {"type": "text", "text": ["Micro behaviours = Stock prices (%", "variations)"], "lineHeight": 18, "fontSize": 13.5, "fontWeight": "bold", "align": "center", "baseline": "alphabetic", "color": "black"},
                  "encoding": {
                    "x": {"datum": 10.58, "type": "quantitative", "scale": {"domain": [0.5, 20.5], "range": [-153.8, 127.2], "nice": false, "zero": false}, "axis": null},
                    "y": {"datum": 0.453, "type": "quantitative", "scale": {"domain": [-0.2, 0.3], "range": [377.3, 242.3], "nice": false, "zero": false}, "axis": null}
                  }
                },
                {
                  "data": {"values": [{}]},
                  "mark": {"type": "rule", "color": "#FF6600", "strokeWidth": 3, "strokeCap": "square"},
                  "encoding": {
                    "x": {"datum": 21.73, "type": "quantitative", "scale": {"domain": [0.5, 20.5], "range": [-153.8, 127.2], "nice": false, "zero": false}, "axis": null},
                    "x2": {"datum": 23.69},
                    "y": {"datum": 1.601, "type": "quantitative", "scale": {"domain": [-0.2, 0.3], "range": [377.3, 242.3], "nice": false, "zero": false}, "axis": null}
                  }
                },
                {
                  "data": {"values": [{}]},
                  "mark": {"type": "rule", "color": "#FF6600", "strokeWidth": 3, "strokeCap": "square"},
                  "encoding": {
                    "x": {"datum": 23.69, "type": "quantitative", "scale": {"domain": [0.5, 20.5], "range": [-153.8, 127.2], "nice": false, "zero": false}, "axis": null},
                    "y": {"datum": 1.601, "type": "quantitative", "scale": {"domain": [-0.2, 0.3], "range": [377.3, 242.3], "nice": false, "zero": false}, "axis": null},
                    "y2": {"datum": 0.143}
                  }
                },
                {
                  "data": {"values": [{}]},
                  "mark": {"type": "rule", "color": "#FF6600", "strokeWidth": 3, "strokeCap": "square"},
                  "encoding": {
                    "x": {"datum": 23.01, "type": "quantitative", "scale": {"domain": [0.5, 20.5], "range": [-153.8, 127.2], "nice": false, "zero": false}, "axis": null},
                    "x2": {"datum": 23.69},
                    "y": {"datum": 0.143, "type": "quantitative", "scale": {"domain": [-0.2, 0.3], "range": [377.3, 242.3], "nice": false, "zero": false}, "axis": null}
                  }
                },
                {
                  "data": {"values": [{}]},
                  "mark": {"type": "point", "filled": true, "opacity": 1, "color": "#FF6600", "shape": "M-1,0L1,-1L1,1Z", "size": 324},
                  "encoding": {
                    "x": {"datum": 22.37, "type": "quantitative", "scale": {"domain": [0.5, 20.5], "range": [-153.8, 127.2], "nice": false, "zero": false}, "axis": null},
                    "y": {"datum": 0.143, "type": "quantitative", "scale": {"domain": [-0.2, 0.3], "range": [377.3, 242.3], "nice": false, "zero": false}, "axis": null}
                  }
                },
                {
                  "data": {"values": [{}]},
                  "mark": {"type": "rule", "color": "#FF6600", "strokeWidth": 3, "strokeCap": "square"},
                  "encoding": {
                    "x": {"datum": -0.4, "type": "quantitative", "scale": {"domain": [0.5, 20.5], "range": [-153.8, 127.2], "nice": false, "zero": false}, "axis": null},
                    "x2": {"datum": -2.68},
                    "y": {"datum": 0.143, "type": "quantitative", "scale": {"domain": [-0.2, 0.3], "range": [377.3, 242.3], "nice": false, "zero": false}, "axis": null}
                  }
                },
                {
                  "data": {"values": [{}]},
                  "mark": {"type": "rule", "color": "#FF6600", "strokeWidth": 3, "strokeCap": "square"},
                  "encoding": {
                    "x": {"datum": -2.68, "type": "quantitative", "scale": {"domain": [0.5, 20.5], "range": [-153.8, 127.2], "nice": false, "zero": false}, "axis": null},
                    "y": {"datum": 0.143, "type": "quantitative", "scale": {"domain": [-0.2, 0.3], "range": [377.3, 242.3], "nice": false, "zero": false}, "axis": null},
                    "y2": {"datum": 1.601}
                  }
                },
                {
                  "data": {"values": [{}]},
                  "mark": {"type": "rule", "color": "#FF6600", "strokeWidth": 3, "strokeCap": "square"},
                  "encoding": {
                    "x": {"datum": -2.68, "type": "quantitative", "scale": {"domain": [0.5, 20.5], "range": [-153.8, 127.2], "nice": false, "zero": false}, "axis": null},
                    "x2": {"datum": -1.69},
                    "y": {"datum": 1.601, "type": "quantitative", "scale": {"domain": [-0.2, 0.3], "range": [377.3, 242.3], "nice": false, "zero": false}, "axis": null}
                  }
                },
                {
                  "data": {"values": [{}]},
                  "mark": {"type": "point", "filled": true, "opacity": 1, "color": "#FF6600", "shape": "M1,0L-1,-1L-1,1Z", "size": 324},
                  "encoding": {
                    "x": {"datum": -1.04, "type": "quantitative", "scale": {"domain": [0.5, 20.5], "range": [-153.8, 127.2], "nice": false, "zero": false}, "axis": null},
                    "y": {"datum": 1.601, "type": "quantitative", "scale": {"domain": [-0.2, 0.3], "range": [377.3, 242.3], "nice": false, "zero": false}, "axis": null}
                  }
                }
              ]
            }
          ]
        }
      ]
    }
  ]
}
